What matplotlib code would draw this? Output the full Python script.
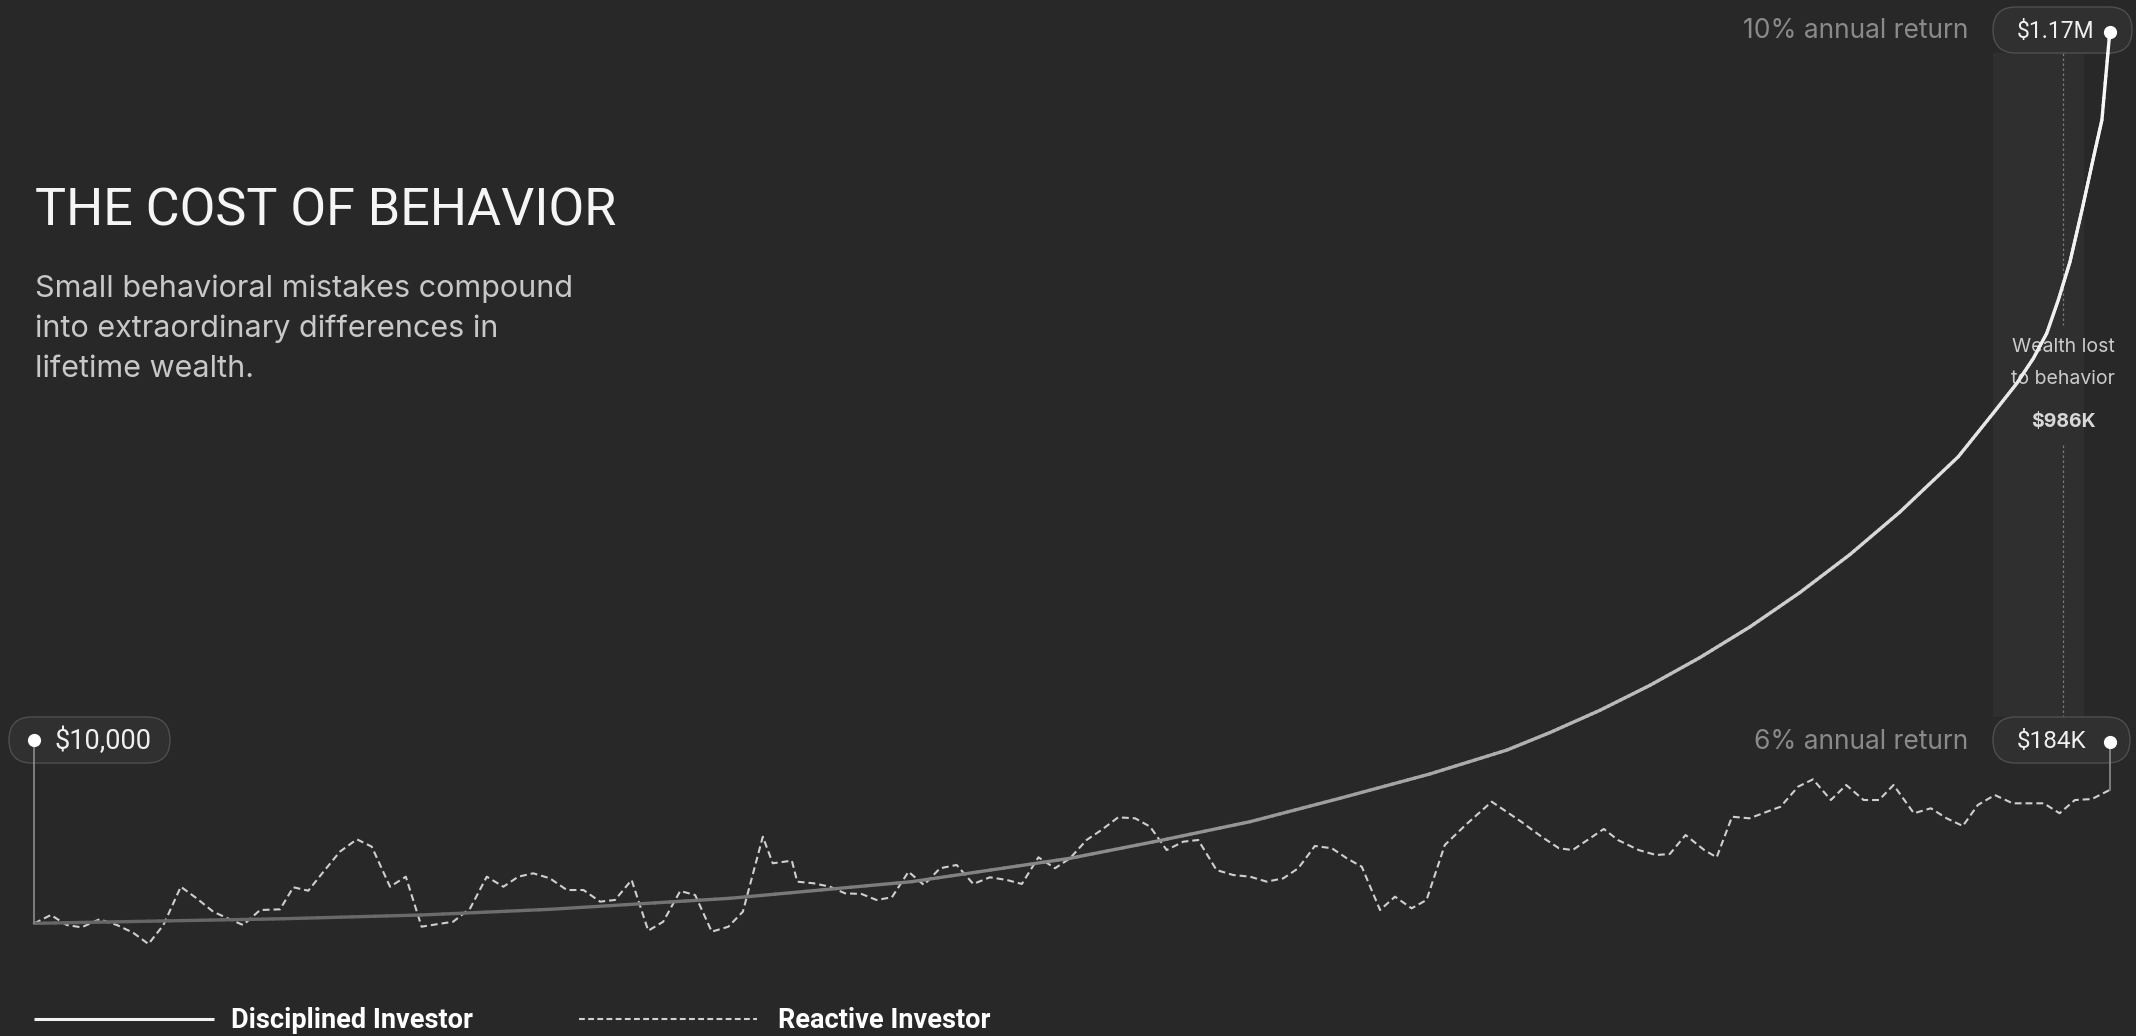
import numpy as np
import matplotlib.pyplot as plt
from matplotlib.collections import LineCollection
from matplotlib.patches import FancyBboxPatch, Rectangle

W_PX, H_PX, DPI = 2136, 1036, 100
BG = '#282828'

# Disciplined investor (10% annual return)
disc_years = [0, 3.0, 6.0, 9.32, 12.42, 16.76, 21.14, 24.95, 27.12, 29.29, 31.45,
              33.62, 35.48, 36.51, 37.72, 38.92, 40.12, 41.33, 42.53, 43.74,
              44.94, 46.35, 47.19, 47.76, 48.16, 48.48, 48.76, 49.04, 49.33,
              49.62, 49.81, 50]
disc_values = [10000, 13000, 16000, 20900, 28300, 42700, 64400, 94900, 118100,
               142700, 173200, 205000, 236300, 259000, 288200, 320700, 356800,
               397000, 441700, 491500, 546800, 619200, 675900, 715000, 747700,
               780300, 823800, 873400, 941300, 1013000, 1058800, 1173900]

# Reactive investor (6% annual return)
reac_years = [0, 0.40, 0.78, 1.14, 1.57, 1.99, 2.38, 2.75, 3.11, 3.53, 3.91, 4.31,
              4.71, 5.03, 5.44, 5.92, 6.24, 6.60, 7.00, 7.36, 7.77, 8.13, 8.57,
              8.95, 9.33, 9.73, 10.09, 10.50, 10.90, 11.30, 11.66, 12.02, 12.42,
              12.83, 13.23, 13.63, 13.99, 14.39, 14.79, 15.15, 15.56, 15.92, 16.32,
              16.72, 17.07, 17.55, 17.79, 18.25, 18.38, 18.77, 19.17, 19.53, 19.93,
              20.29, 20.66, 21.06, 21.43, 21.82, 22.22, 22.62, 23.02, 23.43, 23.79,
              24.19, 24.59, 24.95, 25.35, 25.71, 26.11, 26.52, 26.88, 27.28, 27.68,
              28.04, 28.48, 28.88, 29.29, 29.69, 30.09, 30.45, 30.85, 31.26, 31.62,
              31.98, 32.42, 32.78, 33.18, 33.54, 33.98, 34.48, 35.11, 35.82, 36.31,
              36.73, 37.06, 37.81, 38.15, 38.65, 39.07, 39.40, 39.78, 40.23, 40.53,
              40.90, 41.32, 41.74, 42.07, 42.49, 42.85, 43.28, 43.65, 44.07, 44.44,
              44.79, 45.28, 45.69, 46.07, 46.46, 46.82, 47.23, 47.66, 48.02, 48.41,
              48.79, 49.16, 49.57, 50]
reac_values = [10000, 20900, 7800, 4800, 15300, 7800, -2200, -17000, 7800, 57800,
               42700, 25200, 15300, 7800, 27400, 28300, 57100, 52600, 79600, 103500,
               119700, 110100, 57800, 70900, 5600, 9100, 12100, 29600, 70900, 57800,
               70900, 75300, 68800, 53500, 53500, 38300, 40500, 66600, 400, 12100,
               52200, 47000, -900, 5600, 25200, 123100, 88400, 91800, 64400, 62300,
               57800, 49200, 48300, 40500, 44000, 77400, 60100, 81900, 86200, 61400,
               70100, 66600, 61400, 96200, 81900, 94900, 118800, 131900, 148400,
               147100, 136200, 105700, 116600, 118800, 79600, 73100, 70900, 64400,
               68800, 81900, 111000, 108000, 94900, 83900, 27400, 44800, 29600,
               40500, 112300, 138400, 168800, 142700, 123100, 108000, 105700, 133200,
               118800, 105700, 99200, 100500, 125300, 105700, 96200, 149200, 147100,
               155700, 162300, 188400, 198000, 171000, 190600, 171000, 171000,
               190600, 153700, 160200, 147100, 137100, 164500, 177500, 166700,
               166700, 166700, 153700, 171000, 172300, 184200]

start_label = '$10,000'
disc_label = '$1.17M'
reac_label = '$184K'
lost_label = '$986K'
subtitle_lines = ['Small behavioral mistakes compound',
                  'into extraordinary differences in',
                  'lifetime wealth.']

# pixel <-> data calibration of the plotting area
X0_PX, PX_PER_YEAR = 34.3, 41.51
Y0_PX, DOLLARS_PER_PX = 931.0, 1305.5


def fx(px):
    return px / W_PX


def fy(py):
    return 1 - py / H_PX


def inch(px, py):
    return px / DPI, (H_PX - py) / DPI


fig = plt.figure(figsize=(W_PX / DPI, H_PX / DPI), dpi=DPI, facecolor=BG)
ax = fig.add_axes([0, 0, 1, 1])
ax.set_facecolor(BG)
ax.set_xlim(-X0_PX / PX_PER_YEAR, (W_PX - X0_PX) / PX_PER_YEAR)
ax.set_ylim((Y0_PX - H_PX) * DOLLARS_PER_PX, Y0_PX * DOLLARS_PER_PX)
ax.axis('off')


def px_to_data(px, py):
    disp = fig.transFigure.transform((fx(px), fy(py)))
    return ax.transData.inverted().transform(disp)


# highlight band + dotted measurement line
ax.add_patch(Rectangle((fx(1993), fy(717)), fx(2084) - fx(1993), fy(53) - fy(717),
                       transform=ax.transAxes, facecolor='#2f2f2f', edgecolor='none',
                       zorder=0.5))
for a, b in [(53, 325), (445, 717)]:
    ax.plot([fx(2063), fx(2063)], [fy(a), fy(b)], transform=ax.transAxes,
            color='#7a7a7a', lw=0.9, ls=(0, (2, 2)), zorder=1)

ax.text(fx(2063), fy(347), 'Wealth lost', transform=ax.transAxes, ha='center',
        va='center', fontsize=14, color='#cccccc', family='Inter', zorder=2)
ax.text(fx(2063), fy(379), 'to behavior', transform=ax.transAxes, ha='center',
        va='center', fontsize=14, color='#cccccc', family='Inter', zorder=2)
ax.text(fx(2063), fy(422), lost_label, transform=ax.transAxes, ha='center',
        va='center', fontsize=14, color='#d8d8d8', family='Inter',
        fontweight='bold', zorder=2)

# reactive investor, dashed
ax.plot(reac_years, reac_values, color='#cfcfcf', lw=1.5, dashes=(3.3, 1.9),
        solid_joinstyle='round', zorder=3)

# disciplined investor, solid with grey->white gradient along x
dx = np.asarray(disc_years, float)
dy = np.asarray(disc_values, float)
seg_pts = []
for i in range(len(dx) - 1):
    n = 12
    t = np.linspace(0, 1, n + 1)
    xs = dx[i] + (dx[i + 1] - dx[i]) * t
    ys = dy[i] + (dy[i + 1] - dy[i]) * t
    for j in range(n):
        seg_pts.append([(xs[j], ys[j]), (xs[j + 1], ys[j + 1])])
seg_pts = np.array(seg_pts)
f = seg_pts[:, 0, 0] / 50.0
g = 0.40 + 0.57 * f ** 2
cols = np.column_stack([g, g, g, np.ones_like(g)])
lc = LineCollection(seg_pts, colors=cols, linewidths=2.4, capstyle='round',
                    joinstyle='round', zorder=4)
ax.add_collection(lc)


def pill(x0, y0, x1, y1):
    (ix0, iy1) = inch(x0, y1)
    (ix1, iy0) = inch(x1, y0)
    p = FancyBboxPatch((ix0, iy1), ix1 - ix0, iy0 - iy1,
                       boxstyle='round,pad=0,rounding_size=%.3f' % ((y1 - y0) / 2 / DPI),
                       transform=fig.dpi_scale_trans, facecolor='#303030',
                       edgecolor='#4f4f4f', lw=1.0, zorder=2.5)
    ax.add_patch(p)


# start marker
pill(9, 717, 170, 763)
sx, sy = px_to_data(34.3, 740)
ax.plot([disc_years[0], disc_years[0]], [disc_values[0], sy], color='#8c8c8c',
        lw=1.2, zorder=4)
ax.plot([disc_years[0]], [sy], 'o', ms=9.5, color='white', mec='none', zorder=7)
ax.text(fx(54), fy(741), start_label, transform=ax.transAxes, ha='left',
        va='center', fontsize=19.5, color='#f0f0f0', family='Roboto', zorder=6)

# disciplined end marker
pill(1993, 7, 2132, 53)
ax.plot([disc_years[-1]], [disc_values[-1]], 'o', ms=9.5, color='white', mec='none',
        zorder=7)
ax.text(fx(2017), fy(31), disc_label, transform=ax.transAxes, ha='left',
        va='center', fontsize=16.5, color='#f0f0f0', family='Roboto', zorder=6)
ax.text(fx(1968), fy(31), '10% annual return', transform=ax.transAxes, ha='right',
        va='center', fontsize=19, color='#8a8a8a', family='Inter', zorder=2)

# reactive end marker
pill(1993, 717, 2130, 763)
ex, ey = px_to_data(2109, 742)
ax.plot([reac_years[-1], reac_years[-1]], [reac_values[-1], ey], color='#8c8c8c',
        lw=1.2, zorder=4)
ax.plot([reac_years[-1]], [ey], 'o', ms=9.5, color='white', mec='none', zorder=7)
ax.text(fx(2017), fy(742), reac_label, transform=ax.transAxes, ha='left',
        va='center', fontsize=17.5, color='#f0f0f0', family='Roboto', zorder=6)
ax.text(fx(1968), fy(742), '6% annual return', transform=ax.transAxes, ha='right',
        va='center', fontsize=19, color='#8a8a8a', family='Inter', zorder=2)

# title block
ax.text(fx(35), fy(225), 'THE COST OF BEHAVIOR', transform=ax.transAxes,
        ha='left', va='baseline', fontsize=37.5, color='#f5f5f5', family='Roboto')
for k, line in enumerate(subtitle_lines):
    ax.text(fx(35), fy(297 + 40 * k), line, transform=ax.transAxes, ha='left',
            va='baseline', fontsize=22, color='#c8c8c8', family='Inter')

# legend
ax.plot([fx(34), fx(214)], [fy(1019), fy(1019)], transform=ax.transAxes,
        color='#f2f2f2', lw=2.2, solid_capstyle='butt')
ax.text(fx(231), fy(1020), 'Disciplined Investor', transform=ax.transAxes,
        ha='left', va='center', fontsize=19.5, color='white', family='Roboto',
        fontweight='bold')
ax.plot([fx(579), fx(757)], [fy(1019), fy(1019)], transform=ax.transAxes,
        color='#d0d0d0', lw=1.5, dashes=(2.8, 1.6))
ax.text(fx(778), fy(1020), 'Reactive Investor', transform=ax.transAxes,
        ha='left', va='center', fontsize=19.5, color='white', family='Roboto',
        fontweight='bold')

fig.savefig('out.png', dpi=DPI, facecolor=BG)
